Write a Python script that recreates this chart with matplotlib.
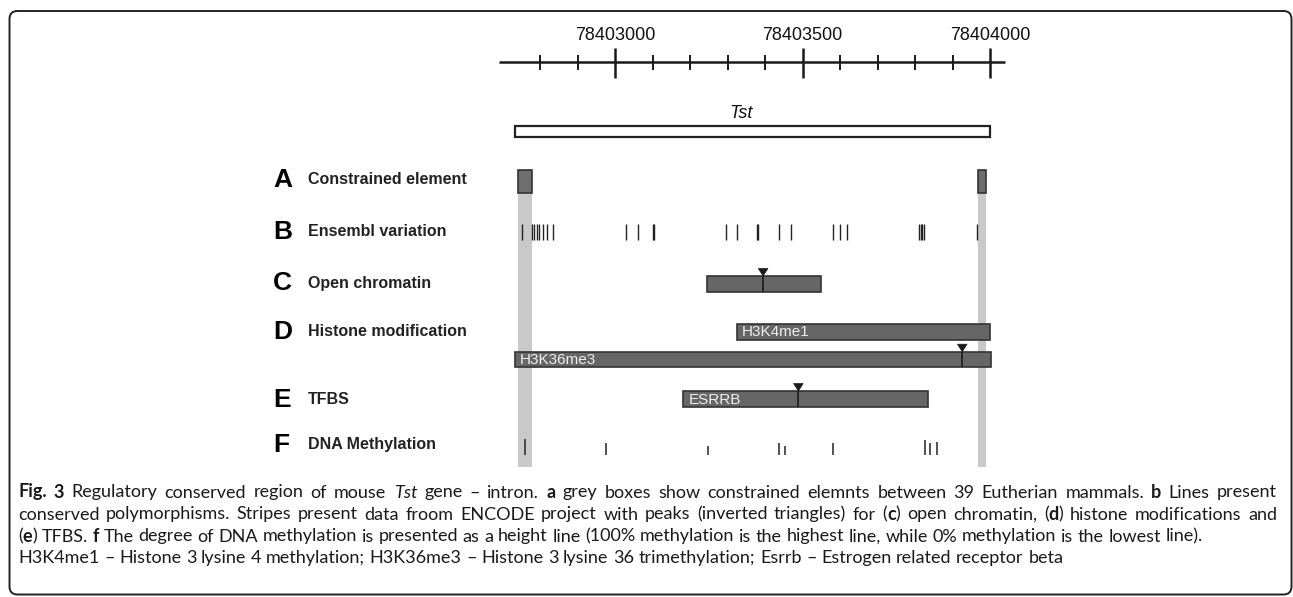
import re
import matplotlib
matplotlib.use('Agg')
import matplotlib.pyplot as plt
from matplotlib import font_manager
from matplotlib.patches import Rectangle, FancyBboxPatch, Polygon

# ---------------- data ----------------
tick_major = [78403000, 78403500, 78404000]
tick_major_labels = ['78403000', '78403500', '78404000']
tick_minor = [78402800, 78402900, 78403100, 78403200, 78403300, 78403400,
              78403600, 78403700, 78403800, 78403900]
axis_range = [78402690, 78404040]

gene_name = 'Tst'
gene_span = [78402733, 78404000]

track_letters = ['A', 'B', 'C', 'D', 'E', 'F']
track_names = ['Constrained element', 'Ensembl variation', 'Open chromatin',
               'Histone modification', 'TFBS', 'DNA Methylation']

constrained_start = [78402742, 78403969]
constrained_end = [78402778, 78403989]

variation_pos = [78402753, 78402779, 78402785, 78402791, 78402797, 78402807,
                 78402818, 78402835, 78403029, 78403062, 78403101, 78403103,
                 78403296, 78403326, 78403378, 78403380, 78403438, 78403469,
                 78403582, 78403600, 78403618, 78403811, 78403815, 78403819,
                 78403823, 78403966]

open_chromatin = [78403245, 78403549]
open_chromatin_peak = 78403395

h3k4me1 = [78403325, 78404000]
h3k36me3 = [78402733, 78404002]
h3k36me3_peak = 78403926

esrrb = [78403182, 78403835]
esrrb_peak = 78403489

meth_pos = [78402760, 78402976, 78403249, 78403438, 78403453, 78403581,
            78403827, 78403840, 78403858]
meth_pct = [94, 69, 56, 75, 56, 75, 88, 69, 78]

caption_lines = [
    "**Fig. 3** Regulatory conserved region of mouse *Tst* gene – intron. **a** grey boxes show constrained elemnts between 39 Eutherian mammals. **b** Lines present",
    "conserved polymorphisms. Stripes present data froom ENCODE project with peaks (inverted triangles) for (**c**) open chromatin, (**d**) histone modifications and",
    "(**e**) TFBS. **f** The degree of DNA methylation is presented as a height line (100% methylation is the highest line, while 0% methylation is the lowest line).",
    "H3K4me1 – Histone 3 lysine 4 methylation; H3K36me3 – Histone 3 lysine 36 trimethylation; Esrrb – Estrogen related receptor beta",
]

# ---------------- layout ----------------
W, H = 1293, 597
BP_PER_PX = 1000.0 / 375.0
X0 = 78403000 - 615 * BP_PER_PX
LAB_FONT = ['Liberation Sans', 'DejaVu Sans']
_avail = {f.name for f in font_manager.fontManager.ttflist}
_cap = next((f for f in ['Lato', 'Roboto', 'Open Sans'] if f in _avail), 'DejaVu Sans')
CAP_FONT = [_cap, 'DejaVu Sans']

fig = plt.figure(figsize=(W / 100, H / 100), dpi=100)
lay = fig.add_axes([0, 0, 1, 1])
lay.set_xlim(0, W)
lay.set_ylim(H, 0)
lay.axis('off')
ax = fig.add_axes([0, 0, 1, 1])
ax.set_xlim(X0, X0 + W * BP_PER_PX)
ax.set_ylim(H, 0)
ax.axis('off')
ax.patch.set_alpha(0)

# frame
lay.add_patch(FancyBboxPatch((9.5, 11), 1282, 583.5,
                             boxstyle='round,pad=0,rounding_size=8',
                             fc='none', ec='#222222', lw=1.4, clip_on=False))

# coordinate axis
AXY = 61.7
ax.plot(axis_range, [AXY, AXY], color='#1a1a1a', lw=1.8, solid_capstyle='butt')
ax.vlines(tick_major, 47.5, 77.5, color='#1a1a1a', lw=1.8)
ax.vlines(tick_minor, 55, 70, color='#1a1a1a', lw=1.4)
for t, lab in zip(tick_major, tick_major_labels):
    ax.text(t, 35, lab, ha='center', va='center', fontsize=13,
            family=LAB_FONT, color='#111111')

# gene
ax.add_patch(Rectangle((gene_span[0], 125.7), gene_span[1] - gene_span[0], 11,
                       fc='white', ec='#222222', lw=1.6))
lay.text(741, 114, gene_name, ha='center', va='center', fontsize=13,
         fontstyle='italic', family=LAB_FONT, color='#111111')

# constrained elements (boxes + grey columns)
for s, e in zip(constrained_start, constrained_end):
    ax.add_patch(Rectangle((s, 193), e - s, 274, fc='#c9c9c9', ec='none', zorder=0.5))
    ax.add_patch(Rectangle((s, 170), e - s, 23, fc='#6e6e6e', ec='#333333', lw=1.2, zorder=2))

# variations
ax.vlines(variation_pos, 223.5, 239.5, color='#222222', lw=1.0, zorder=2)


def feature(span, ytop, h=16, label=None, peak=None):
    ax.add_patch(Rectangle((span[0], ytop), span[1] - span[0], h,
                           fc='#666666', ec='#333333', lw=1.2, zorder=2))
    if label:
        ax.text(span[0] + 5 * BP_PER_PX, ytop + h / 2 + 0.5, label, ha='left',
                va='center', fontsize=11, color='#eeeeee', family=LAB_FONT, zorder=3)
    if peak is not None:
        ax.vlines(peak, ytop, ytop + h, color='#1a1a1a', lw=1.2, zorder=3)
        hw = 4.8 * BP_PER_PX
        ax.add_patch(Polygon([(peak - hw, ytop - 7.5), (peak + hw, ytop - 7.5), (peak, ytop)],
                             closed=True, fc='#1a1a1a', ec='#1a1a1a', lw=0.5, zorder=3))


feature(open_chromatin, 276, 15.7, peak=open_chromatin_peak)
feature(h3k4me1, 324, 16, label='H3K4me1')
feature(h3k36me3, 351.7, 15.7, label='H3K36me3', peak=h3k36me3_peak)
feature(esrrb, 391, 16.3, label='ESRRB', peak=esrrb_peak)

# methylation
base = 454.5
ax.vlines(meth_pos, [base - p / 100 * 16 for p in meth_pct], base,
          color='#333333', lw=1.2, zorder=2)

# track labels
track_y = [180, 232, 283.5, 332, 400, 445]
for yc, letter, name in zip(track_y, track_letters, track_names):
    lay.text(273, yc, letter, ha='left', va='center', fontsize=19,
             fontweight='bold', family=LAB_FONT, color='#000000')
    lay.text(308, yc, name, ha='left', va='center', fontsize=11.5,
             fontweight='bold', family=LAB_FONT, color='#222222')

# caption (rich text, drawn word by word)
renderer = fig.canvas.get_renderer()


def parse(line):
    pieces = re.split(r'(\*\*.+?\*\*|\*.+?\*)', line)
    words = [[]]
    for p in pieces:
        if not p:
            continue
        if p.startswith('**'):
            style, txt = 'bold', p[2:-2]
        elif p.startswith('*'):
            style, txt = 'italic', p[1:-1]
        else:
            style, txt = 'normal', p
        parts = txt.split(' ')
        for i, part in enumerate(parts):
            if i > 0:
                words.append([])
            if part:
                words[-1].append((part, style))
    return [w for w in words if w]


def props(style, size):
    return dict(fontsize=size, family=CAP_FONT, color='#1a1a1a',
                fontweight='bold' if style == 'bold' else 'normal',
                fontstyle='italic' if style == 'italic' else 'normal')


def measure(s, style, size):
    t = lay.text(0, 0, s, **props(style, size))
    w = t.get_window_extent(renderer).width
    t.remove()
    return w


def word_width(word, size):
    return sum(measure(s, st, size) for s, st in word)


def line_width(words, size):
    sp = measure('a a', 'normal', size) - measure('aa', 'normal', size)
    return sum(word_width(w, size) for w in words) + sp * (len(words) - 1)


parsed = [parse(l) for l in caption_lines]
ref = 10.0
targets = [1259, 1259, 1152, 975]
nat = sum(line_width(p, ref) for p in parsed)
size = ref * sum(targets) / nat
space = measure('a a', 'normal', size) - measure('aa', 'normal', size)
baselines = [497.5, 519.5, 541.5, 563]
justify = [True, True, False, False]
for words, yb, just in zip(parsed, baselines, justify):
    widths = [word_width(w, size) for w in words]
    gap = space
    if just:
        gap = (1277 - 18 - sum(widths)) / (len(words) - 1)
    x = 18
    for w, ww in zip(words, widths):
        xx = x
        for s, st in w:
            lay.text(xx, yb, s, ha='left', va='baseline', **props(st, size))
            xx += measure(s, st, size)
        x += ww + gap

fig.savefig('out.png', dpi=100)
